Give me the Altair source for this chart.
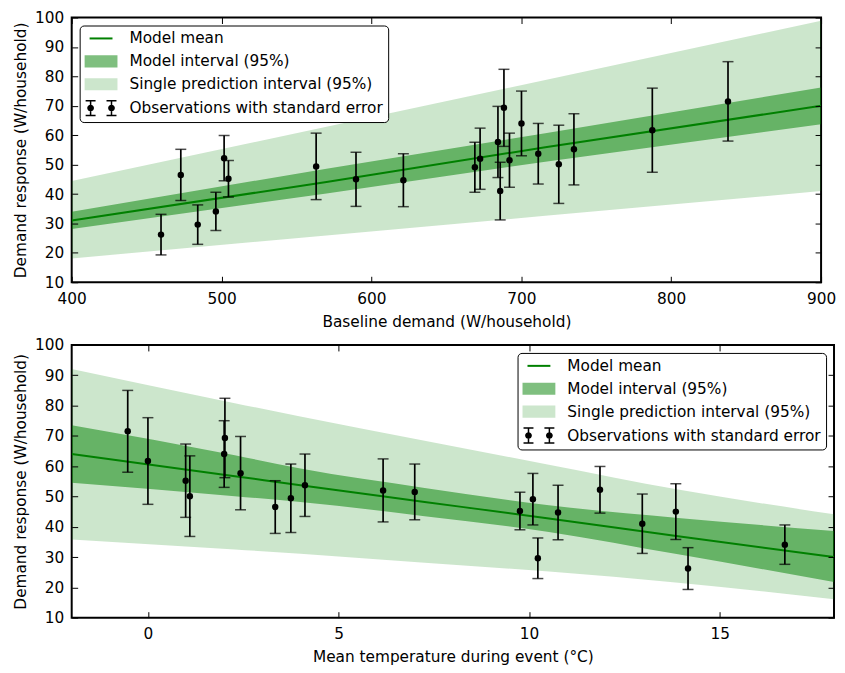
import altair as alt
import pandas as pd

# ---------------- data ----------------
# Observations (same events in both panels)
baseline = [459.6, 472.8, 484.1, 496.2, 501.7, 504.6, 563.1, 589.7, 621.3, 669.0, 672.5,
            684.4, 685.9, 688.4, 692.1, 700.1, 711.3, 725.0, 735.1, 787.4, 837.9]
temperature = [14.17, 3.34, 10.23, 16.71, 11.86, 9.76, 3.75, 13.85, 10.76, 10.10, 6.17,
               2.43, 12.97, 2.02, 7.00, 2.00, 4.12, 1.10, 0.99, 0.00, -0.53]
response = [26.2, 46.5, 29.6, 34.1, 52.2, 45.2, 49.4, 45.0, 44.7, 49.1, 52.0,
            57.7, 41.0, 69.3, 51.5, 64.0, 53.7, 50.1, 55.2, 61.7, 71.5]
std_err = [6.9, 8.7, 6.7, 6.5, 7.7, 6.2, 11.3, 9.2, 9.0, 8.5, 10.4,
           12.1, 9.8, 13.1, 9.2, 11.0, 10.3, 13.3, 12.1, 14.3, 13.5]

# Top panel model (baseline demand)
top_x = [400, 570, 716, 900]
top_mean = [31.0, 44.1, 55.9, 70.0]
top_model_lo = [28.1, 40.2, 51.0, 63.7]
top_model_hi = [34.0, 48.6, 60.7, 76.2]
top_pred_lo = [18.1, 25.9, 32.6, 41.0]
top_pred_hi = [44.4, 62.9, 78.8, 98.9]

# Bottom panel model (mean temperature)
bot_x = [-2, 2.28, 4, 7.26, 10.52, 13.91, 18]
bot_mean = [64.0, 56.7, 53.7, 48.2, 42.7, 36.9, 30.0]
bot_model_lo = [54.5, 50.1, 48.2, 43.5, 38.3, 30.9, 21.8]
bot_model_hi = [73.5, 63.6, 59.2, 52.8, 47.1, 42.9, 38.6]
bot_pred_lo = [35.8, 32.5, 31.1, 28.1, 25.2, 21.5, 16.1]
bot_pred_hi = [92.1, 80.8, 76.4, 68.4, 60.5, 52.3, 44.1]

legend_labels = ["Model mean", "Model interval (95%)",
                 "Single prediction interval (95%)", "Observations with standard error"]
y_ticks = [10, 20, 30, 40, 50, 60, 70, 80, 90, 100]
top_ticks = [400, 500, 600, 700, 800, 900]
bot_ticks = [0, 5, 10, 15]

# ---------------- styling ----------------
GREEN = "#008000"
FONT = "DejaVu Sans"
FS = 15.4
SYM = 16          # legend symbol box (px); glyphs drawn wider than the box
R = SYM / 2.0


def u(v):
    return round(v / R, 4)


def rect(x0, y0, x1, y1):
    return f"M{u(x0)},{u(y0)}H{u(x1)}V{u(y1)}H{u(x0)}Z"


def glyph(cx):
    r = 3.4
    return (rect(cx - 0.75, -8.25, cx + 0.75, 8.25)
            + rect(cx - 5, -8.25, cx + 5, -6.75)
            + rect(cx - 5, 6.75, cx + 5, 8.25)
            + f"M{u(cx + r)},0A{u(r)},{u(r)} 0 1,1 {u(cx - r)},0"
              f"A{u(r)},{u(r)} 0 1,1 {u(cx + r)},0Z")


shape_range = [
    rect(-11.5, -1, 11.5, 1),
    rect(-16.5, -6.1, 16.5, 6.1),
    rect(-16.5, -6.1, 16.5, 6.1),
    glyph(-10.5) + glyph(10.5),
]
color_range = [GREEN, "#7fbf7f", "#cce6cc", "black"]

obs_df = pd.DataFrame({
    "baseline": baseline,
    "temp": temperature,
    "resp": response,
    "se": std_err,
    "series": legend_labels[3],
})
top_df = pd.DataFrame({"x": top_x, "mean": top_mean, "model_lo": top_model_lo,
                       "model_hi": top_model_hi, "pred_lo": top_pred_lo, "pred_hi": top_pred_hi})
bot_df = pd.DataFrame({"x": bot_x, "mean": bot_mean, "model_lo": bot_model_lo,
                       "model_hi": bot_model_hi, "pred_lo": bot_pred_lo, "pred_hi": bot_pred_hi})


def panel(obs_field, x_title, x_domain, x_ticks, model_df, width, height, legend_orient, interp):
    xs = alt.Scale(domain=x_domain, nice=False, zero=False)
    ys = alt.Scale(domain=[10, 100], nice=False, zero=False)
    main_x = alt.Axis(title=x_title, values=x_ticks, offset=-6, tickSize=6, domain=False,
                      grid=False, labelPadding=9, titlePadding=8, labelFlush=False,
                      zindex=1, format="d")
    main_y = alt.Axis(title="Demand response (W/household)", values=y_ticks, offset=-6,
                      tickSize=6, domain=False, grid=False, labelPadding=8, titlePadding=6,
                      labelFlush=False, zindex=1, format="d")
    top_axis = alt.Axis(orient="top", values=x_ticks, labels=False, title=None, offset=-6,
                        tickSize=6, domain=False, grid=False, zindex=1)
    right_axis = alt.Axis(orient="right", values=y_ticks, labels=False, title=None, offset=-6,
                          tickSize=6, domain=False, grid=False, zindex=1)

    mb = alt.Chart(model_df)
    light = mb.mark_area(color=GREEN, opacity=0.2, interpolate=interp, clip=True).encode(
        x=alt.X("x:Q", scale=xs, axis=main_x),
        y=alt.Y("pred_lo:Q", scale=ys, axis=main_y),
        y2="pred_hi:Q",
    )
    dark = mb.mark_area(color=GREEN, opacity=0.5, interpolate=interp, clip=True).encode(
        x=alt.X("x:Q", axis=None),
        y=alt.Y("model_lo:Q", axis=None),
        y2="model_hi:Q",
    )
    line = mb.mark_line(color=GREEN, strokeWidth=2, interpolate=interp, clip=True).encode(
        x=alt.X("x:Q", axis=None),
        y=alt.Y("mean:Q", axis=None),
    )

    ob = alt.Chart(obs_df).transform_calculate(
        lo="datum.resp - datum.se", hi="datum.resp + datum.se")
    ox = alt.X(f"{obs_field}:Q", axis=None)
    bars = ob.mark_rule(color="black", strokeWidth=1.7).encode(
        x=ox, y=alt.Y("lo:Q", axis=None), y2="hi:Q")
    cap_lo = ob.mark_tick(color="black", orient="horizontal", size=11, thickness=1.5).encode(
        x=ox, y=alt.Y("lo:Q", axis=None))
    cap_hi = ob.mark_tick(color="black", orient="horizontal", size=11, thickness=1.5).encode(
        x=ox, y=alt.Y("hi:Q", axis=None))
    pts = ob.mark_circle(color="black", size=42, opacity=1).encode(
        x=ox, y=alt.Y("resp:Q", axis=None))

    leg = alt.Legend(title=None, orient=legend_orient, offset=8, padding=5, rowPadding=6,
                     labelFont=FONT, labelFontSize=FS, labelColor="black", labelLimit=0,
                     symbolOffset=8.5, labelOffset=20.5, symbolSize=SYM * SYM,
                     symbolOpacity=1, symbolStrokeWidth=0, strokeColor="black",
                     fillColor="white", cornerRadius=4)
    legend_layer = ob.mark_point(filled=True, opacity=0).encode(
        x=alt.X(f"{obs_field}:Q", axis=top_axis),
        y=alt.Y("resp:Q", axis=right_axis),
        color=alt.Color("series:N", scale=alt.Scale(domain=legend_labels, range=color_range),
                        legend=leg),
        shape=alt.Shape("series:N", scale=alt.Scale(domain=legend_labels, range=shape_range),
                        legend=leg),
    )
    return alt.layer(light, dark, line, bars, cap_lo, cap_hi, pts, legend_layer).resolve_axis(
        x="independent", y="independent").properties(width=width, height=height)


top = panel("baseline", "Baseline demand (W/household)", [400, 900], top_ticks, top_df,
            753, 266, "top-left", "linear")
bottom = panel("temp", "Mean temperature during event (°C)", [-2, 18], bot_ticks, bot_df,
               766, 274, "top-right", "monotone")

chart = alt.vconcat(top, bottom, spacing=6).resolve_scale(
    x="independent", y="independent", color="independent", shape="independent"
).properties(
    padding={"left": 4, "top": 0, "right": 0, "bottom": 0}
).configure_axis(
    labelFont=FONT, labelFontSize=FS, labelColor="black",
    titleFont=FONT, titleFontSize=FS, titleFontWeight="normal", titleColor="black",
    tickColor="black", tickWidth=1,
).configure_view(stroke="black", strokeWidth=2)

chart.save("out.html", embed_options={"renderer": "svg", "actions": False})
